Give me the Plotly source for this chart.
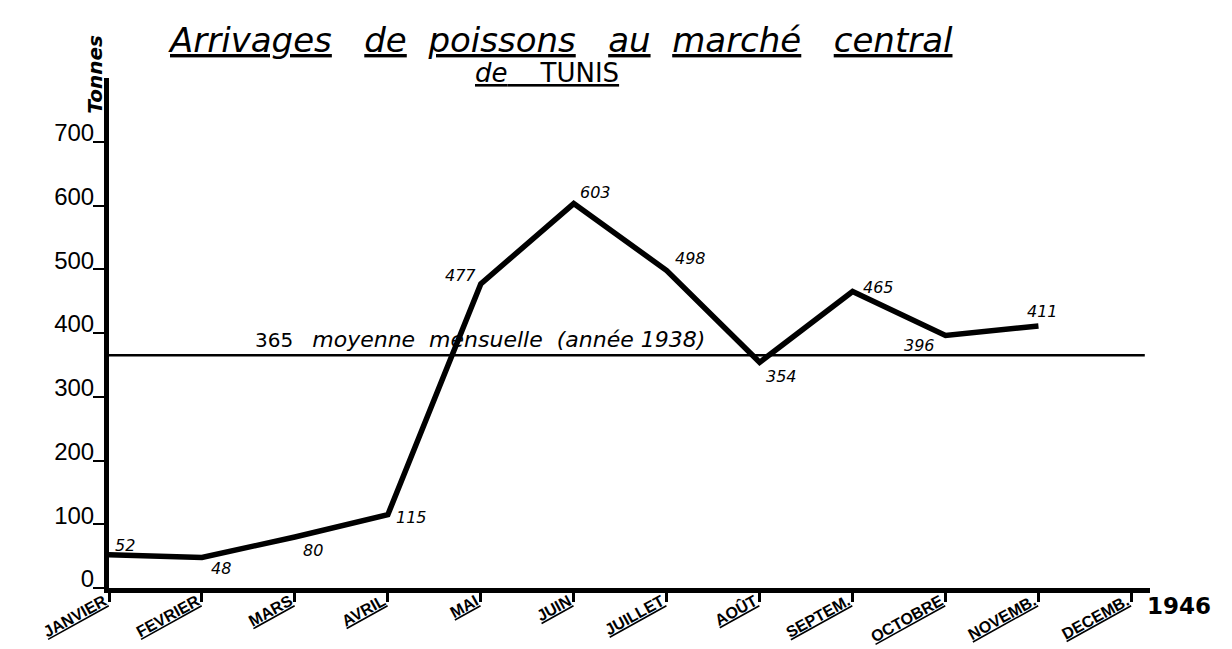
import plotly.graph_objects as go

# ---------------- data ----------------
months = ["JANVIER", "FEVRIER", "MARS", "AVRIL", "MAI", "JUIN", "JUILLET",
          "AOÛT", "SEPTEM.", "OCTOBRE", "NOVEMB.", "DECEMB."]
tonnes_1946 = [52, 48, 80, 115, 477, 603, 498, 354, 465, 396, 411]  # Jan..Nov
mean_1938 = 365
y_tick_vals = [0, 100, 200, 300, 400, 500, 600, 700]
y_tick_text = ["0", "100", "200", "300", "400", "500", "600", "700"]
year_label = "1946"

# label offsets in pixels (style only)
label_dx = [16, 19, 18, 24, -20, 22, 24, 22, 26, -26, 4]
label_dy = [9, -11, -13, -3, 8, 11, 12, -14, 4, -10, 14]

x_idx = list(range(len(tonnes_1946)))
NB = "\u00a0"

fig = go.Figure()

fig.add_trace(go.Scatter(
    x=x_idx, y=tonnes_1946, mode="lines",
    line=dict(color="black", width=5.5),
    hoverinfo="x+y", showlegend=False,
))

# mean line
fig.add_shape(type="line", xref="paper", yref="y", x0=0, x1=0.995,
              y0=mean_1938, y1=mean_1938, line=dict(color="black", width=2.5))

ann = []
for i, v in enumerate(tonnes_1946):
    ann.append(dict(x=i, y=v, xref="x", yref="y", text="<i>%d</i>" % v,
                    showarrow=False, xshift=label_dx[i], yshift=label_dy[i],
                    font=dict(family="DejaVu Sans", size=16, color="black")))

ann.append(dict(x=0.138, y=mean_1938, xref="paper", yref="y", xanchor="left",
                yanchor="bottom", yshift=1, showarrow=False,
                text=("%d%s<span style='font-size:22px'><i>moyenne%smensuelle%s(année 1938)</i></span>"
                      % (mean_1938, NB * 3, NB * 2, NB * 2)),
                font=dict(family="DejaVu Sans", size=20, color="black")))

# title
title_words = ["Arrivages", "de", "poissons", "au", "marché", "central"]
title_gaps = [3, 2, 3, 2, 3]
title_txt = "<u>%s</u>" % title_words[0]
for w, g in zip(title_words[1:], title_gaps):
    title_txt += NB * g + "<u>%s</u>" % w
ann.append(dict(x=0.434, y=1.075, xref="paper", yref="paper", showarrow=False,
                xanchor="center", yanchor="middle", text=title_txt,
                font=dict(family="DejaVu Sans", size=34, color="black", style="italic")))
ann.append(dict(x=0.421, y=1.010, xref="paper", yref="paper", showarrow=False,
                xanchor="center", yanchor="middle",
                text="<u><i>de</i>%sTUNIS</u>" % (NB * 4),
                font=dict(family="DejaVu Sans", size=26, color="black")))

# y axis title
ann.append(dict(x=-0.0135, y=1.008, xref="paper", yref="paper", showarrow=False,
                textangle=-90, xanchor="center", yanchor="middle",
                text="<b><i>Tonnes</i></b>",
                font=dict(family="DejaVu Sans", size=20, color="black")))

# year
ann.append(dict(x=1.028, y=-0.035, xref="paper", yref="paper", showarrow=False,
                xanchor="center", yanchor="middle", text="<b>%s</b>" % year_label,
                font=dict(family="DejaVu Sans", size=23, color="black")))

# page has an 8px body margin: figure is 1224x641
fig.update_layout(
    width=1224, height=641,
    margin=dict(l=101, r=82, t=70, b=61, autoexpand=False),
    paper_bgcolor="white", plot_bgcolor="white",
    annotations=ann,
    xaxis=dict(
        range=[0, 11.2], tickvals=list(range(len(months))), ticktext=months,
        tickangle=-29, ticks="outside", ticklen=9, tickwidth=2.5, tickcolor="black",
        ticklabelstandoff=-16, ticklabelshift=-5,
        showline=True, linewidth=5, linecolor="black", showgrid=False, zeroline=False,
        automargin=False,
        tickfont=dict(family="Liberation Sans", size=16, color="black",
                      weight="bold", lineposition="under"),
    ),
    yaxis=dict(
        range=[0, 800], tickvals=y_tick_vals, ticktext=y_tick_text,
        ticks="outside", ticklen=11, tickwidth=1.5, tickcolor="black",
        ticklabelshift=-9, ticklabelstandoff=-6,
        showline=True, linewidth=5, linecolor="black", showgrid=False, zeroline=False,
        automargin=False,
        tickfont=dict(family="Liberation Sans", size=24, color="black"),
    ),
)

fig.write_html("out.html")
